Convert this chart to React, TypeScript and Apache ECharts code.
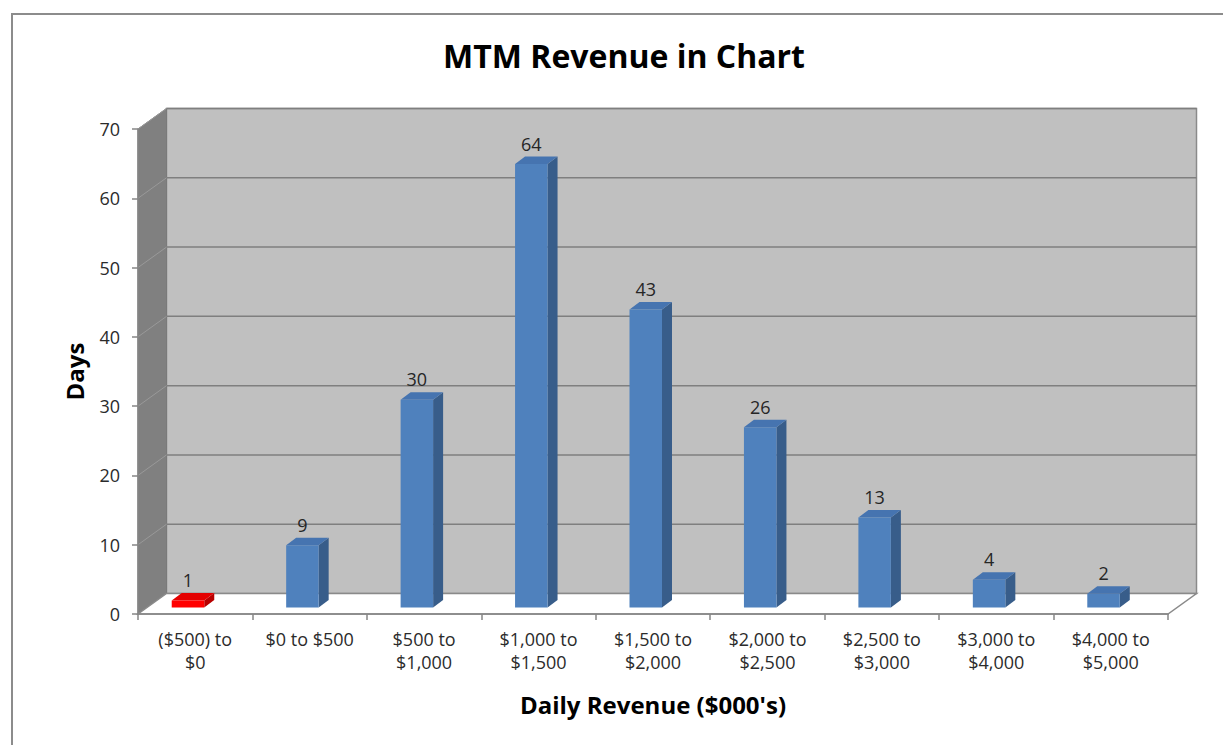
import React, { useEffect, useRef } from "react";
import * as echarts from "echarts";

const categories = [
  "($500) to\n$0",
  "$0 to $500",
  "$500 to\n$1,000",
  "$1,000 to\n$1,500",
  "$1,500 to\n$2,000",
  "$2,000 to\n$2,500",
  "$2,500 to\n$3,000",
  "$3,000 to\n$4,000",
  "$4,000 to\n$5,000",
];
const days = [1, 9, 30, 64, 43, 26, 13, 4, 2];
const yMin = 0;
const yMax = 70;
const yStep = 10;
const titleText = "MTM Revenue in Chart";
const xName = "Daily Revenue ($000's)";
const yName = "Days";

// 3D look constants (styling only)
const WALL_DX = 28.5;
const WALL_DY = -20.5;
const BAR_DX = 10;
const BAR_DY = -7.5;
const BAR_LEFT = -23.5;
const BAR_WIDTH = 32.5;
const BAR_INSET_Y = -6.5;
const FONT = "'Open Sans', 'DejaVu Sans', sans-serif";

export default function App() {
  const ref = useRef<HTMLDivElement>(null);
  useEffect(() => {
    if (!ref.current) return;
    const chart = echarts.init(ref.current, undefined, { renderer: "svg" });
    const option: any = {
      animation: false,
      backgroundColor: "#ffffff",
      graphic: [
        {
          type: "rect",
          shape: { x: 12, y: 14, width: 1240, height: 760 },
          style: { fill: "none", stroke: "#8c8c8c", lineWidth: 2 },
          z: 0,
        },
        {
          type: "text",
          x: 624,
          y: 55,
          style: {
            text: titleText,
            align: "center",
            verticalAlign: "middle",
            fontSize: 32,
            fontWeight: "bold",
            fontFamily: FONT,
            fill: "#000000",
          },
        },
      ],
      grid: { left: 138, right: 55, top: 129, bottom: 131, containLabel: false },
      xAxis: {
        type: "category",
        data: categories,
        boundaryGap: true,
        z: 10,
        axisLine: { show: true, lineStyle: { color: "#868686", width: 1.5 } },
        axisTick: { show: true, length: 6, interval: 0, lineStyle: { color: "#868686", width: 1.5 } },
        axisLabel: {
          interval: 0,
          fontSize: 18,
          lineHeight: 23,
          color: "#2b2b2b",
          fontFamily: FONT,
          margin: 13,
        },
        splitLine: { show: false },
        name: xName,
        nameLocation: "middle",
        nameGap: 78,
        nameTextStyle: { fontSize: 24, fontWeight: "bold", color: "#000000", fontFamily: FONT },
      },
      yAxis: {
        type: "value",
        min: yMin,
        max: yMax,
        interval: yStep,
        z: 10,
        axisLine: { show: true, lineStyle: { color: "#868686", width: 1.5 } },
        axisTick: { show: true, length: 6, lineStyle: { color: "#868686", width: 1.5 } },
        axisLabel: { fontSize: 18, color: "#2b2b2b", fontFamily: FONT, margin: 18 },
        splitLine: { show: false },
        name: yName,
        nameLocation: "middle",
        nameGap: 52,
        nameTextStyle: { fontSize: 24, fontWeight: "bold", color: "#000000", fontFamily: FONT },
      },
      series: [
        {
          type: "custom",
          z: 1,
          clip: false,
          silent: true,
          data: [[0, 0]],
          encode: { x: 0, y: 1 },
          renderItem: (params: any, api: any) => {
            const cs = params.coordSys;
            const x0 = cs.x;
            const x1 = cs.x + cs.width;
            const yTop = cs.y;
            const yBot = cs.y + cs.height;
            const dx = WALL_DX;
            const dy = WALL_DY;
            const children: any[] = [];
            children.push({
              type: "rect",
              shape: { x: x0 + dx, y: yTop + dy, width: cs.width, height: cs.height },
              style: { fill: "#c0c0c0", stroke: "#8a8a8a", lineWidth: 1.5 },
            });
            children.push({
              type: "polygon",
              shape: { points: [[x0, yTop], [x0 + dx, yTop + dy], [x0 + dx, yBot + dy], [x0, yBot]] },
              style: { fill: "#808080", stroke: "#7a7a7a", lineWidth: 1 },
            });
            children.push({
              type: "polygon",
              shape: { points: [[x0, yBot], [x0 + dx, yBot + dy], [x1 + dx, yBot + dy], [x1, yBot]] },
              style: { fill: "#ffffff", stroke: "#8a8a8a", lineWidth: 1.5 },
            });
            for (let v = yMin + yStep; v <= yMax; v += yStep) {
              const y = api.coord([0, v])[1];
              children.push({
                type: "line",
                shape: { x1: x0 + dx, y1: y + dy, x2: x1 + dx, y2: y + dy },
                style: { stroke: "#7f7f7f", lineWidth: 1.5 },
              });
              children.push({
                type: "line",
                shape: { x1: x0, y1: y, x2: x0 + dx, y2: y + dy },
                style: { stroke: "#999999", lineWidth: 1 },
              });
            }
            return { type: "group", children };
          },
        },
        {
          type: "custom",
          z: 3,
          clip: false,
          data: days.map((d, i) => [i, d]),
          encode: { x: 0, y: 1 },
          renderItem: (params: any, api: any) => {
            const i = api.value(0);
            const v = api.value(1);
            const base = api.coord([i, 0]);
            const top = api.coord([i, v]);
            const xl = base[0] + BAR_LEFT;
            const xr = xl + BAR_WIDTH;
            const yb = base[1] + BAR_INSET_Y;
            const yt = top[1] + BAR_INSET_Y;
            const loss = categories[i].startsWith("(");
            const c = loss
              ? { front: "#ff0000", side: "#b80000", top: "#e40000" }
              : { front: "#4f81bd", side: "#385d8a", top: "#4674b0" };
            return {
              type: "group",
              children: [
                {
                  type: "polygon",
                  shape: { points: [[xr, yb], [xr + BAR_DX, yb + BAR_DY], [xr + BAR_DX, yt + BAR_DY], [xr, yt]] },
                  style: { fill: c.side },
                },
                {
                  type: "polygon",
                  shape: { points: [[xl, yt], [xl + BAR_DX, yt + BAR_DY], [xr + BAR_DX, yt + BAR_DY], [xr, yt]] },
                  style: { fill: c.top },
                },
                {
                  type: "rect",
                  shape: { x: xl, y: yt, width: BAR_WIDTH, height: yb - yt },
                  style: { fill: c.front },
                },
                {
                  type: "text",
                  style: {
                    text: String(v),
                    x: (xl + xr) / 2,
                    y: yt + BAR_DY - 4,
                    align: "center",
                    verticalAlign: "bottom",
                    fontSize: 18,
                    fontFamily: FONT,
                    fill: "#262626",
                  },
                },
              ],
            };
          },
        },
      ],
    };
    chart.setOption(option);
    return () => chart.dispose();
  }, []);
  return (
    <div
      ref={ref}
      style={{ position: "absolute", left: 0, top: 0, width: 1223, height: 745 }}
    />
  );
}
